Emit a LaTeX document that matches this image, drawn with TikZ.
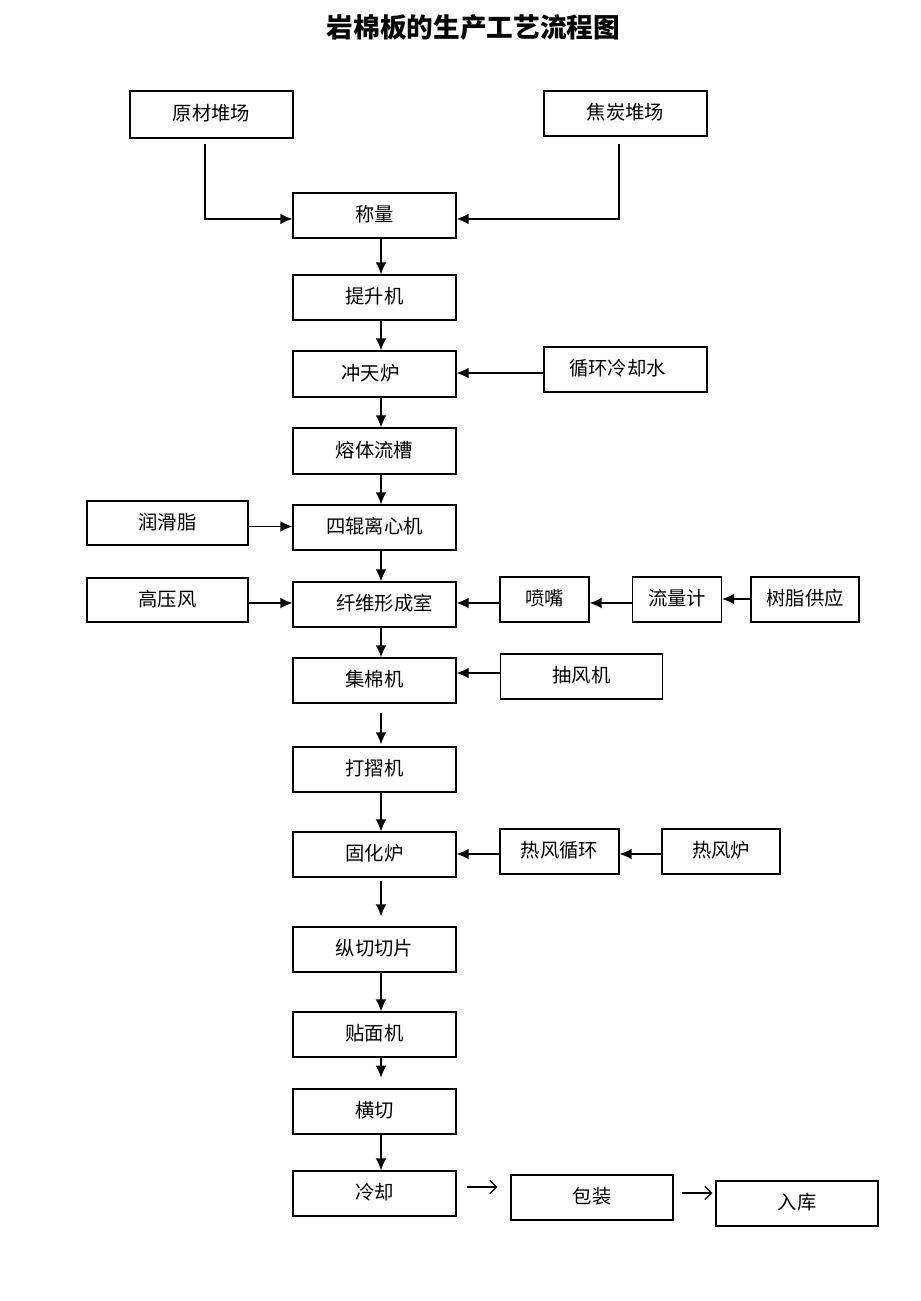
\documentclass[tikz,border=0pt]{standalone}
\usepackage{fontspec}
\setmainfont{Noto Sans CJK SC}
\usetikzlibrary{arrows.meta,calc}
\tikzset{
  box/.style={draw, line width=0.9pt, inner sep=0pt, text height=12pt, text depth=2.5pt,
    font=\fontsize{14.5pt}{16pt}\selectfont, minimum height=45*0.75pt, minimum width=163*0.75pt},
  bw/.style={minimum width=#1*0.75pt},
  bh/.style={minimum height=#1*0.75pt},
  arr/.style={-{Latex[length=9pt,width=8pt]}, line width=1pt},
  oarr/.style={-{Straight Barb[length=5pt,width=10pt]}, line width=1pt},
  ttl/.style={font=\bfseries\fontsize{20pt}{24pt}\selectfont, inner sep=0pt}
}
\begin{document}
\begin{tikzpicture}[x=0.75pt,y=-0.75pt]
\useasboundingbox (0,0) rectangle (920,1301);
\node[ttl] (title) at (473.5,27) {岩棉板的生产工艺流程图};
% main column
\node[box,bh=47] (raw) at (211.5,114.5) {原材堆场};
\node[box] (coke) at (625.5,113.5) {焦炭堆场};
\node[box] (weigh) at (374.5,215.5) {称量};
\node[box] (lift) at (374.5,297.5) {提升机};
\node[box,bh=46] (cupola) at (374.5,374) {冲天炉\hspace*{6pt}};
\node[box,bh=46] (trough) at (374.5,451) {熔体流槽};
\node[box] (spin) at (374.5,527.5) {四辊离心机};
\node[box] (fiber) at (374.5,604.5) {\hspace*{15pt}纤维形成室};
\node[box] (collect) at (374.5,680.5) {集棉机};
\node[box] (pleat) at (374.5,769.5) {打摺机};
\node[box] (cure) at (374.5,854.5) {固化炉};
\node[box] (slit) at (374.5,949.5) {纵切切片};
\node[box] (face) at (374.5,1034.5) {贴面机};
\node[box] (cross) at (374.5,1111.5) {横切};
\node[box] (cool) at (374.5,1193.5) {冷却};
% side boxes
\node[box] (water) at (625.5,369.5) {循环冷却水\hspace*{12pt}};
\node[box,bw=161,bh=44] (grease) at (167.5,523) {润滑脂};
\node[box,bw=161,bh=44] (hpair) at (167.5,600) {高压风};
\node[box,bw=89] (nozzle) at (544.5,599.5) {喷嘴};
\node[box,bw=89] (flow) at (677,599.5) {流量计};
\node[box,bw=108] (resin) at (805,599.5) {树脂供应};
\node[box,bw=162] (fan) at (581.5,676.5) {抽风机};
\node[box,bw=119] (hotcirc) at (559.5,851.5) {热风循环};
\node[box,bw=118] (hotfurn) at (721,851.5) {热风炉};
\node[box,bw=162] (pack) at (592,1197.5) {包装};
\node[box,bw=162] (store) at (797,1203.5) {入库};
% top feeds
\draw[arr] ([xshift=-4.875pt,yshift=-3.75pt]raw.south) |- ([yshift=-2.6pt]weigh.west);
\draw[arr] ([xshift=-4.875pt,yshift=-5.25pt]coke.south) |- ([yshift=-2.6pt]weigh.east);
% main vertical arrows
\draw[arr] ([xshift=4.875pt]weigh.south) -- ([xshift=4.875pt]lift.north);
\draw[arr] ([xshift=4.875pt]lift.south) -- ([xshift=4.875pt]cupola.north);
\draw[arr] ([xshift=4.875pt]cupola.south) -- ([xshift=4.875pt]trough.north);
\draw[arr] ([xshift=4.875pt]trough.south) -- ([xshift=4.875pt]spin.north);
\draw[arr] ([xshift=4.875pt]spin.south) -- ([xshift=4.875pt]fiber.north);
\draw[arr] ([xshift=4.875pt]fiber.south) -- ([xshift=4.875pt]collect.north);
\draw[arr,shorten <=6.75pt,shorten >=1.5pt] ([xshift=4.875pt]collect.south) -- ([xshift=4.875pt]pleat.north);
\draw[arr] ([xshift=4.875pt]pleat.south) -- ([xshift=4.875pt]cure.north);
\draw[arr,shorten <=2.25pt,shorten >=7.5pt] ([xshift=4.875pt]cure.south) -- ([xshift=4.875pt]slit.north);
\draw[arr] ([xshift=4.875pt]slit.south) -- ([xshift=4.875pt]face.north);
\draw[arr,shorten >=8pt] ([xshift=4.875pt]face.south) -- ([xshift=4.875pt]cross.north);
\draw[arr] ([xshift=4.875pt]cross.south) -- ([xshift=4.875pt]cool.north);
% side arrows
\draw[arr] (water.west |- 0,373) -- (cupola.east |- 0,373);
\draw[arr] (grease.east |- 0,526.5) -- (spin.west |- 0,526.5);
\draw[arr] (hpair.east |- 0,603) -- (fiber.west |- 0,603);
\draw[arr] (nozzle.west |- 0,603) -- (fiber.east |- 0,603);
\draw[arr] (flow.west |- 0,603) -- (nozzle.east |- 0,603);
\draw[arr] (resin.west |- 0,599) -- (flow.east |- 0,599);
\draw[arr] (fan.west |- 0,673) -- (collect.east |- 0,673);
\draw[arr] (hotcirc.west |- 0,854) -- (cure.east |- 0,854);
\draw[arr] (hotfurn.west |- 0,854) -- (hotcirc.east |- 0,854);
% bottom open arrows
\draw[oarr,shorten <=7.5pt,shorten >=9.75pt] (cool.east |- 0,1187) -- (pack.west |- 0,1187);
\draw[oarr,shorten <=6pt,shorten >=2.25pt] (pack.east |- 0,1193) -- (store.west |- 0,1193);
\end{tikzpicture}
\end{document}
